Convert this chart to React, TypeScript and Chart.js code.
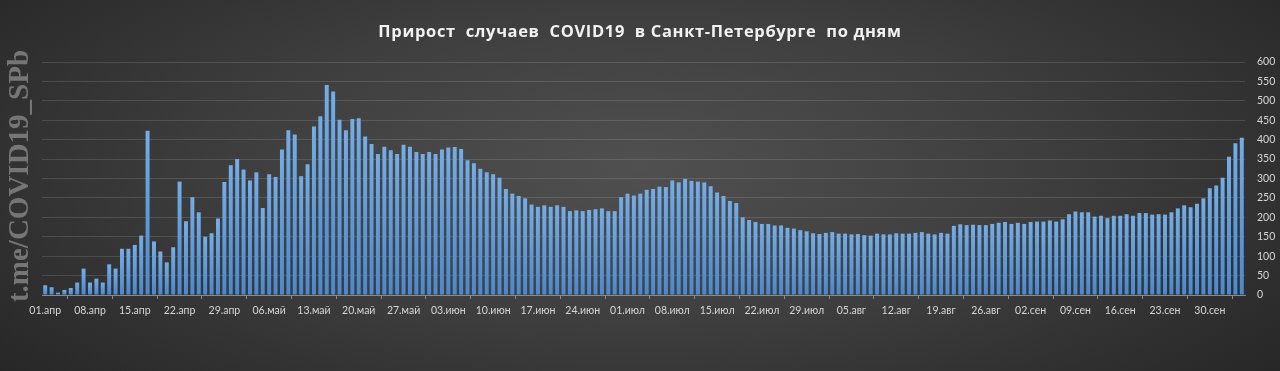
import React, { useEffect, useRef } from "react";
import { Chart, registerables } from "chart.js";

Chart.register(...registerables);

const TITLE = "Прирост  случаев  COVID19  в Санкт-Петербурге  по дням";
const WATERMARK = "t.me/COVID19_SPb";

const MONTHS = ["апр", "май", "июн", "июл", "авг", "сен", "окт"];
const DAYS_IN_MONTH = [30, 31, 30, 31, 31, 30, 5];

const CASES = [
  25, 20, 6, 13, 18, 32, 68, 32, 42, 32, 79, 68, 119, 119, 129, 153, 423, 138, 112, 84, 123, 292, 190, 252, 213, 150, 159, 197,
  291, 334, 350, 323, 295, 316, 224, 311, 304, 375, 424, 413, 306, 337, 434, 460, 541, 524, 451, 424, 453, 455, 408, 389, 363, 382, 373, 363, 387, 382, 368,
  363, 368, 363, 375, 380, 381, 376, 347, 339, 325, 316, 311, 302, 273, 261, 255, 249, 233, 227, 231, 227, 231, 227, 216, 218, 216, 219, 221, 223, 216, 216,
  252, 261, 256, 261, 271, 273, 279, 278, 295, 290, 299, 294, 292, 290, 280, 264, 255, 242, 237, 200, 193, 188, 183, 183, 179, 179, 173, 171, 167, 164, 159, 157,
  160, 162, 158, 158, 156, 157, 154, 153, 158, 156, 156, 159, 158, 158, 160, 162, 158, 156, 160, 158, 178, 182, 180, 181, 180, 180, 183, 186, 188, 183, 186,
  183, 188, 189, 189, 192, 189, 195, 208, 215, 213, 213, 202, 204, 198, 204, 204, 208, 204, 211, 211, 207, 208, 207, 213, 223, 231, 226, 235, 249, 275, 282, 302, 356, 391, 405,
];

const Y_MIN = 0;
const Y_MAX = 600;
const Y_STEP = 50;
const LABEL_EVERY = 7;

const CATEGORIES: string[] = [];
MONTHS.forEach((m, mi) => {
  for (let d = 1; d <= DAYS_IN_MONTH[mi]; d++) {
    CATEGORIES.push(String(d).padStart(2, "0") + "." + m);
  }
});

export default function App() {
  const ref = useRef<HTMLCanvasElement | null>(null);

  useEffect(() => {
    document.body.style.margin = "0";
    const canvas = ref.current;
    if (!canvas) return;
    const chart = new Chart(canvas, {
      type: "bar",
      data: {
        labels: CATEGORIES,
        datasets: [
          {
            data: CASES,
            backgroundColor: (c: any) => {
              const ch = c.chart;
              const { ctx, chartArea, scales } = ch;
              if (!chartArea || c.raw == null) return "#5b9bd5";
              const top = scales.y.getPixelForValue(c.raw);
              const bottom = scales.y.getPixelForValue(0);
              const g = ctx.createLinearGradient(0, top, 0, bottom);
              g.addColorStop(0, "#74ade6");
              g.addColorStop(1, "#4a89d0");
              return g;
            },
            borderWidth: 0,
            barPercentage: 0.62,
            categoryPercentage: 1,
          },
        ],
      },
      options: {
        animation: false,
        responsive: false,
        maintainAspectRatio: false,
        layout: { padding: { left: 42, right: 0, top: 62, bottom: 46 } },
        plugins: {
          legend: { display: false },
          title: { display: false },
          tooltip: { enabled: false },
        },
        scales: {
          x: {
            offset: true,
            afterFit: (s: any) => {
              s.height = 30;
            },
            grid: {
              display: true,
              offset: true,
              drawOnChartArea: false,
              drawTicks: true,
              tickLength: 4,
              color: "#8a8a8a",
            },
            border: { display: true, color: "#8a8a8a" },
            ticks: {
              autoSkip: false,
              maxRotation: 0,
              minRotation: 0,
              padding: 5,
              color: "#d6d6d6",
              font: { family: "Lato", size: 10.5 },
              callback: (_v: any, i: number) => (i % LABEL_EVERY === 0 ? CATEGORIES[i] : null),
            },
          },
          y: {
            position: "right",
            min: Y_MIN,
            max: Y_MAX,
            afterFit: (s: any) => {
              s.width = 35;
            },
            grid: {
              color: "rgba(255,255,255,0.13)",
              drawTicks: false,
            },
            border: { display: false },
            ticks: {
              stepSize: Y_STEP,
              padding: 12,
              color: "#d6d6d6",
              font: { family: "Lato", size: 10.5 },
            },
          },
        },
      },
    });
    return () => chart.destroy();
  }, []);

  return (
    <div
      style={{
        position: "fixed",
        left: 0,
        top: 0,
        width: 1280,
        height: 371,
        overflow: "hidden",
        background:
          "radial-gradient(ellipse 70% 95% at 50% 45%, #505050 0%, #3e3e3e 45%, #232323 100%)",
      }}
    >
      <div
        style={{
          position: "absolute",
          left: 0,
          top: 30,
          width: 1280,
          transform: "translateY(-50%)",
          textAlign: "center",
          whiteSpace: "pre",
          color: "#f2f2f2",
          fontFamily: "'Open Sans', sans-serif",
          fontWeight: 700,
          fontSize: 16.5,
          letterSpacing: 0.65,
        }}
      >
        {TITLE}
      </div>
      <div
        style={{
          position: "absolute",
          left: 18,
          top: 176,
          transform: "translate(-50%, -50%) rotate(-90deg)",
          whiteSpace: "nowrap",
          color: "#767676",
          fontFamily: "'Liberation Serif', serif",
          fontWeight: 700,
          fontSize: 29,
        }}
      >
        {WATERMARK}
      </div>
      <canvas ref={ref} width={1280} height={371} style={{ position: "absolute", left: 0, top: 0 }} />
    </div>
  );
}
